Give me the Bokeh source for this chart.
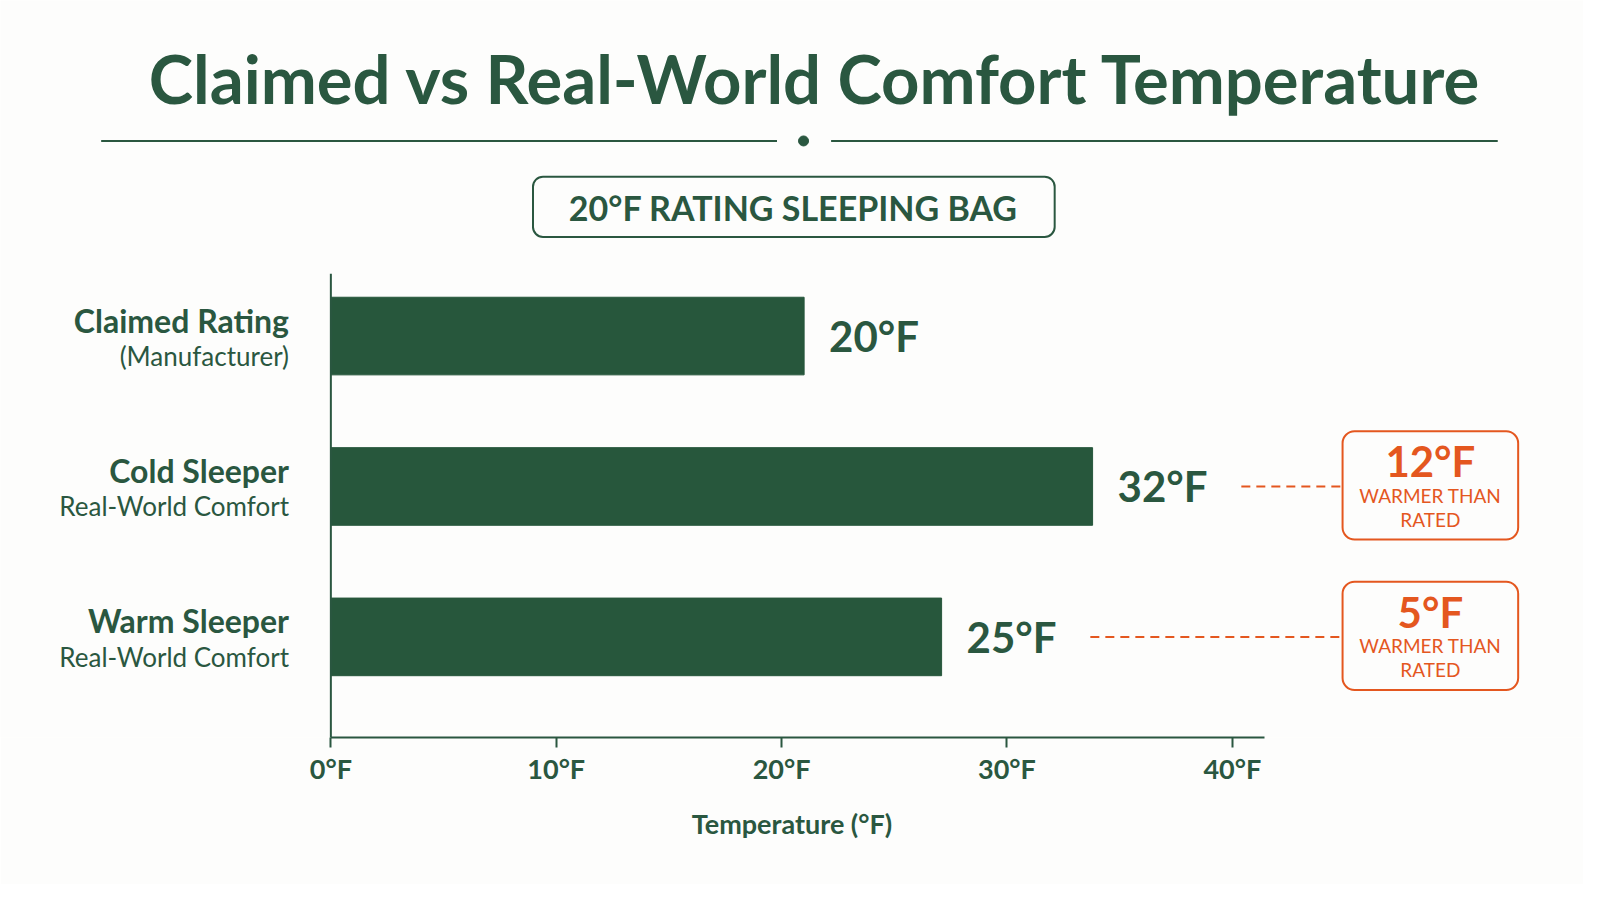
from bokeh.plotting import figure
from bokeh.models import Range1d, FixedTicker, BoxAnnotation
from bokeh.core.properties import value
from bokeh.embed import file_html
from bokeh.resources import INLINE

# ---- data ----
categories = ["Claimed Rating", "Cold Sleeper", "Warm Sleeper"]
subtitles = ["(Manufacturer)", "Real-World Comfort", "Real-World Comfort"]
bar_lengths = [21.0, 33.8, 27.1]          # bar ends as drawn, °F
value_labels = ["20°F", "32°F", "25°F"]
gap_rows = [1, 2]
gap_values = ["12°F", "5°F"]
gap_note = ["WARMER THAN", "RATED"]
x_ticks = [0, 10, 20, 30, 40]
tick_labels = ["0°F", "10°F", "20°F", "30°F", "40°F"]

# ---- style ----
FONT = "Lato"
GREEN = "#27573C"
TEXT = "#2A5740"
ORANGE = "#E4571F"
BG = "#FDFDFC"

# layout pixel -> data helpers
PX = 22.075   # px per °F
X0 = 325      # x of 0°F
ROW = 147.25  # px per row
Y0 = 329      # y of first bar


def fx(px):
    return (px - X0) / PX


def fy(py):
    return (py - Y0) / ROW


rows = list(range(len(categories)))

p = figure(width=1583, height=884,
           x_range=Range1d(fx(1.4), fx(1552)),
           y_range=Range1d(fy(722), fy(0.5)),
           output_backend="svg", toolbar_location=None,
           y_axis_location=None,
           min_border_left=0, min_border_right=0,
           min_border_top=0, min_border_bottom=147,
           background_fill_color=BG, border_fill_color=BG,
           outline_line_color=None)
p.grid.visible = False

# title + divider
p.text(x=[fx(800)], y=[fy(76)], text=["Claimed vs Real-World Comfort Temperature"],
       text_align="center", text_baseline="middle", text_font=value(FONT),
       text_font_size="67px", text_font_style="bold", text_color=TEXT)
p.segment(x0=[fx(100), fx(815)], y0=[fy(138)] * 2, x1=[fx(762), fx(1468)], y1=[fy(138)] * 2,
          line_color=TEXT, line_width=2)
p.scatter(x=[fx(788)], y=[fy(138)], size=10, color=TEXT)

# subtitle box
p.add_layout(BoxAnnotation(left=fx(523), right=fx(1034), top=fy(173), bottom=fy(232),
                           border_radius=10, line_color=TEXT, line_width=2, line_alpha=1,
                           fill_color=BG, fill_alpha=1, level="underlay"))
p.text(x=[fx(778)], y=[fy(203)], text=["20°F RATING SLEEPING BAG"],
       text_align="center", text_baseline="middle", text_font=value(FONT),
       text_font_size="34px", text_font_style="bold", text_color=TEXT)

# bars
p.hbar(y=rows, left=0, right=bar_lengths, height=76 / ROW, color=GREEN)
p.text(x=bar_lengths, y=rows, text=value_labels, x_offset=25,
       text_baseline="middle", text_font=value(FONT), text_font_size="42px",
       text_font_style="bold", text_color=TEXT)

# category labels
p.text(x=[fx(284)] * 3, y=rows, text=categories, y_offset=-16,
       text_align="right", text_baseline="middle", text_font=value(FONT),
       text_font_size="32px", text_font_style="bold", text_color=TEXT)
p.text(x=[fx(284)] * 3, y=rows, text=subtitles, y_offset=20,
       text_align="right", text_baseline="middle", text_font=value(FONT),
       text_font_size="26px", text_color=TEXT)

# y axis line
p.segment(x0=[0], y0=[fy(268)], x1=[0], y1=[fy(722)], line_color=TEXT, line_width=2)

# gap callouts
starts = [bar_lengths[r] + 6.6 for r in gap_rows]
p.segment(x0=starts, y0=gap_rows, x1=[fx(1316)] * len(gap_rows), y1=gap_rows,
          line_color=ORANGE, line_width=2, line_dash="9 6")
for r in gap_rows:
    p.add_layout(BoxAnnotation(left=fx(1316), right=fx(1488), top=r - 54 / ROW, bottom=r + 52 / ROW,
                               border_radius=12, line_color=ORANGE, line_width=2, line_alpha=1,
                               fill_color=BG, fill_alpha=1, level="underlay"))
cx = fx(1402)
p.text(x=[cx] * len(gap_rows), y=gap_rows, text=gap_values, y_offset=-25,
       text_align="center", text_baseline="middle", text_font=value(FONT),
       text_font_size="42px", text_font_style="bold", text_color=ORANGE)
p.text(x=[cx] * len(gap_rows), y=gap_rows, text=[gap_note[0]] * len(gap_rows), y_offset=9,
       text_align="center", text_baseline="middle", text_font=value(FONT),
       text_font_size="19px", text_color=ORANGE)
p.text(x=[cx] * len(gap_rows), y=gap_rows, text=[gap_note[1]] * len(gap_rows), y_offset=33,
       text_align="center", text_baseline="middle", text_font=value(FONT),
       text_font_size="19px", text_color=ORANGE)

# x axis
ax = p.xaxis[0]
ax.ticker = FixedTicker(ticks=x_ticks)
ax.major_label_overrides = dict(zip(x_ticks, tick_labels))
ax.bounds = (0, fx(1240))
ax.axis_line_color = TEXT
ax.axis_line_width = 2
ax.major_tick_line_color = TEXT
ax.major_tick_line_width = 2
ax.major_tick_in = 0
ax.major_tick_out = 10
ax.minor_tick_line_color = None
ax.major_label_standoff = 4
ax.major_label_text_font = FONT
ax.major_label_text_font_size = "27px"
ax.major_label_text_font_style = "bold"
ax.major_label_text_color = TEXT
ax.axis_label = "Temperature (°F)"
ax.axis_label_standoff = 19
ax.axis_label_text_font = FONT
ax.axis_label_text_font_size = "27px"
ax.axis_label_text_font_style = "bold"
ax.axis_label_text_color = TEXT

open("out.html", "w").write(file_html(p, INLINE))
